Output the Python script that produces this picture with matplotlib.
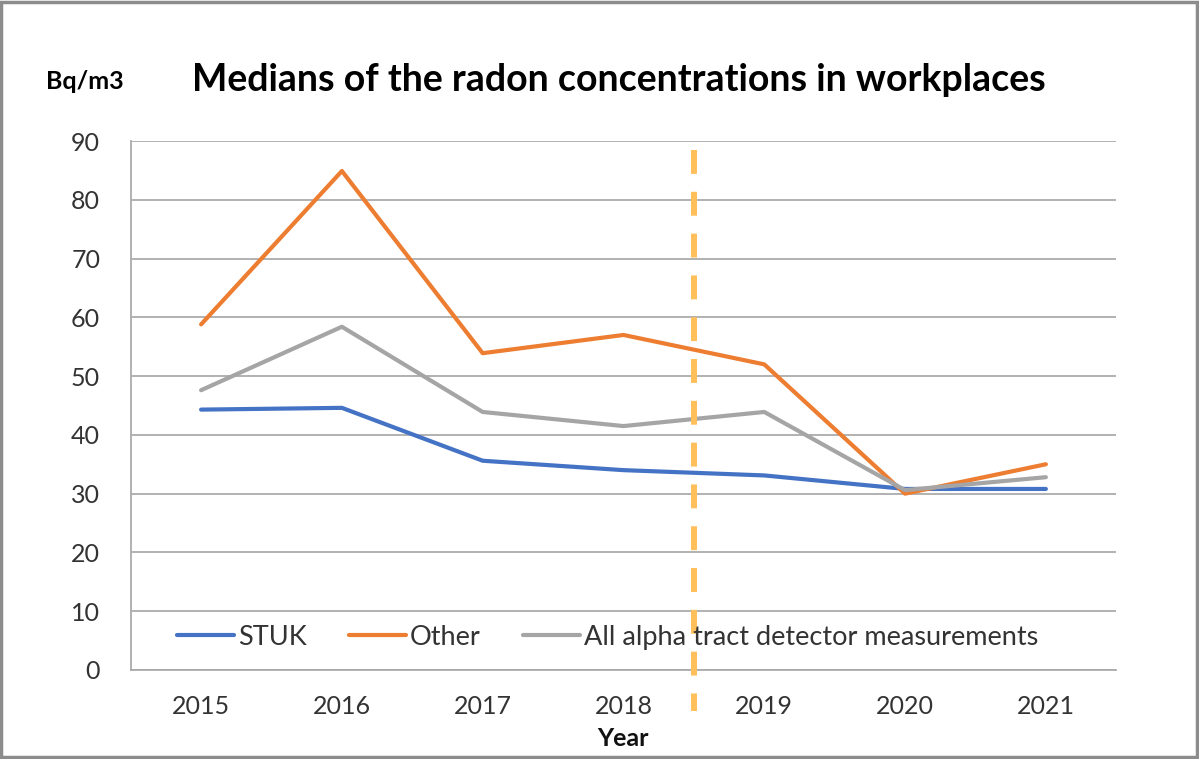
import numpy as np
import matplotlib
matplotlib.use('Agg')
import matplotlib.pyplot as plt
from matplotlib.patches import Rectangle

plt.rcParams['font.family'] = ['Lato', 'DejaVu Sans']

years = ['2015', '2016', '2017', '2018', '2019', '2020', '2021']
stuk = [44.3, 44.6, 35.6, 34.0, 33.1, 30.8, 30.8]
other = [58.8, 84.9, 53.9, 57.0, 52.0, 30.0, 35.0]
all_alpha = [47.6, 58.4, 43.9, 41.5, 43.9, 30.6, 32.8]
yticks = [0, 10, 20, 30, 40, 50, 60, 70, 80, 90]

fig = plt.figure(figsize=(11.99, 7.59), dpi=100)
ax = fig.add_axes([0.109, 0.1173, 0.822, 0.6969])

x = np.arange(len(years))
ax.plot(x, stuk, color='#4472C4', lw=3, label='STUK', solid_capstyle='round', zorder=3)
ax.plot(x, other, color='#ED7D31', lw=3, label='Other', solid_capstyle='round', zorder=3)
ax.plot(x, all_alpha, color='#A5A5A5', lw=3, label='All alpha tract detector measurements',
        solid_capstyle='round', zorder=3)

# dashed separator between 2018 and 2019
ax.plot([3.5, 3.5], [88.5, -7.0], color='#FFBF5A', lw=4.3, linestyle=(0, (4, 3)),
        dash_capstyle='butt', clip_on=False, zorder=4)

ax.set_xlim(-0.5, 6.5)
ax.set_ylim(0, 90)
ax.set_xticks(x)
ax.set_xticklabels(years)
ax.set_yticks(yticks)
ax.tick_params(axis='both', length=0, labelsize=18, colors='#333333')
ax.tick_params(axis='x', pad=18)
ax.tick_params(axis='y', pad=22)
ax.grid(axis='y', color='#ABABAB', lw=1.3)
ax.set_axisbelow(True)
for s in ['top', 'right']:
    ax.spines[s].set_visible(False)
for s in ['left', 'bottom']:
    ax.spines[s].set_color('#ABABAB')
    ax.spines[s].set_linewidth(1.3)

fig.text(0.5196, 0.027, 'Year', fontsize=18, fontweight='bold', ha='center', va='center',
         color='#111111')

leg = ax.legend(loc='center', bbox_to_anchor=(0.484, 0.062), ncol=3, frameon=False,
                fontsize=19.5, handlelength=2.1, handletextpad=0.15, columnspacing=1.55,
                labelcolor='#333333')

fig.text(0.071, 0.893, 'Bq/m3', fontsize=18, fontweight='bold', ha='center', va='center')
fig.text(0.516, 0.894, 'Medians of the radon concentrations in workplaces', fontsize=27,
         fontweight='bold', ha='center', va='center')

fig.patches.append(Rectangle((0.001, 0.002), 0.997, 0.995, transform=fig.transFigure,
                             fill=False, edgecolor='#8C8C8C', lw=2.5))

fig.savefig('out.png', dpi=100)
